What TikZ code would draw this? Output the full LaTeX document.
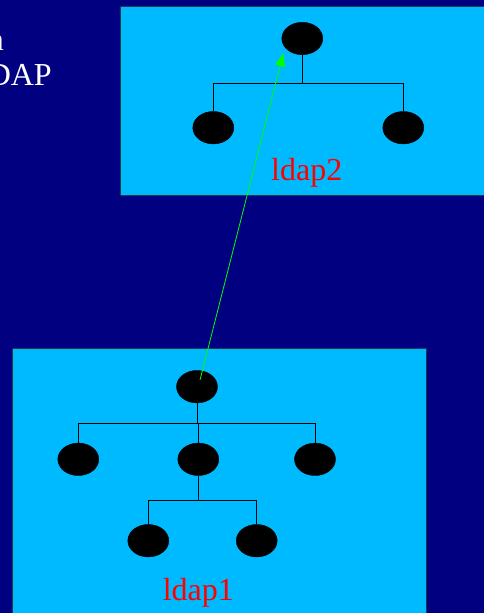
\documentclass[tikz,border=0pt]{standalone}
\usepackage{fontspec}
\setmainfont{Liberation Serif}
\usetikzlibrary{shapes.geometric,arrows.meta}
\definecolor{navy}{RGB}{0,0,128}
\definecolor{panel}{RGB}{0,186,255}
\definecolor{edgegray}{RGB}{20,60,80}
\definecolor{tagred}{RGB}{255,0,0}
\definecolor{linkgreen}{RGB}{0,255,0}
\begin{document}
\begin{tikzpicture}[x=1pt,y=-1pt,
  entry/.style={ellipse,fill=black,draw=black,inner sep=0pt,minimum width=41pt,minimum height=32.5pt},
  branch/.style={draw=black,line width=0.8pt},
  panelbox/.style={fill=panel,draw=edgegray,line width=0.8pt},
  tag/.style={text=tagred,font=\fontsize{32}{37}\selectfont,inner sep=0pt},
  slide/.style={text=white,font=\fontsize{32}{37}\selectfont,inner sep=0pt},
  link/.style={draw=linkgreen,line width=0.8pt,-{Triangle[length=13pt,width=10pt]}}]
\useasboundingbox (0,0) rectangle (484,613);
\clip (0,0) rectangle (484,613);
\fill[navy] (0,0) rectangle (484,613);

% slide text running in from the left
\node[slide,anchor=base east] (w1) at (4,50) {n};
\node[slide,anchor=base east] (w2) at (52,85) {DAP};

% upper server panel
\path[panelbox] (120,6) rectangle (490,195);
\node[entry] (t0) at (302.3,38.5) {};
\node[entry] (t1) at (213.3,127.7) {};
\node[entry] (t2) at (403.3,127.7) {};
\coordinate (j2) at (302.3,83.3);
\draw[branch] (t0) -- (j2);
\draw[branch] (t1.north) |- (j2) -| (t2.north);
\node[tag,anchor=base] (l2) at (306.7,180) {ldap2};

% lower server panel
\path[panelbox] (12.7,348.3) rectangle (426.3,620);
\node[entry] (b0) at (197,386.7) {};
\node[entry] (b1) at (78.3,459.3) {};
\node[entry] (b2) at (198.3,459.3) {};
\node[entry] (b3) at (315,459.3) {};
\node[entry] (b4) at (148.3,540.7) {};
\node[entry] (b5) at (256.7,540.7) {};
\coordinate (j1) at (197,423.3);
\coordinate (j3) at (198.3,500.3);
\draw[branch] (b0) -- (j1);
\draw[branch] (b1.north) |- (j1) -| (b3.north);
\draw[branch] (b2.north) -- (b2.north |- j1);
\draw[branch] (b2) -- (j3);
\draw[branch] (b4.north) |- (j3) -| (b5.north);
\node[tag,anchor=base] (l1) at (198.3,600) {ldap1};

% referral link between the two roots
\coordinate (src) at (200,380);
\coordinate (tip) at (283.3,53.3);
\draw[link] (src) -- (tip);
\end{tikzpicture}
\end{document}
